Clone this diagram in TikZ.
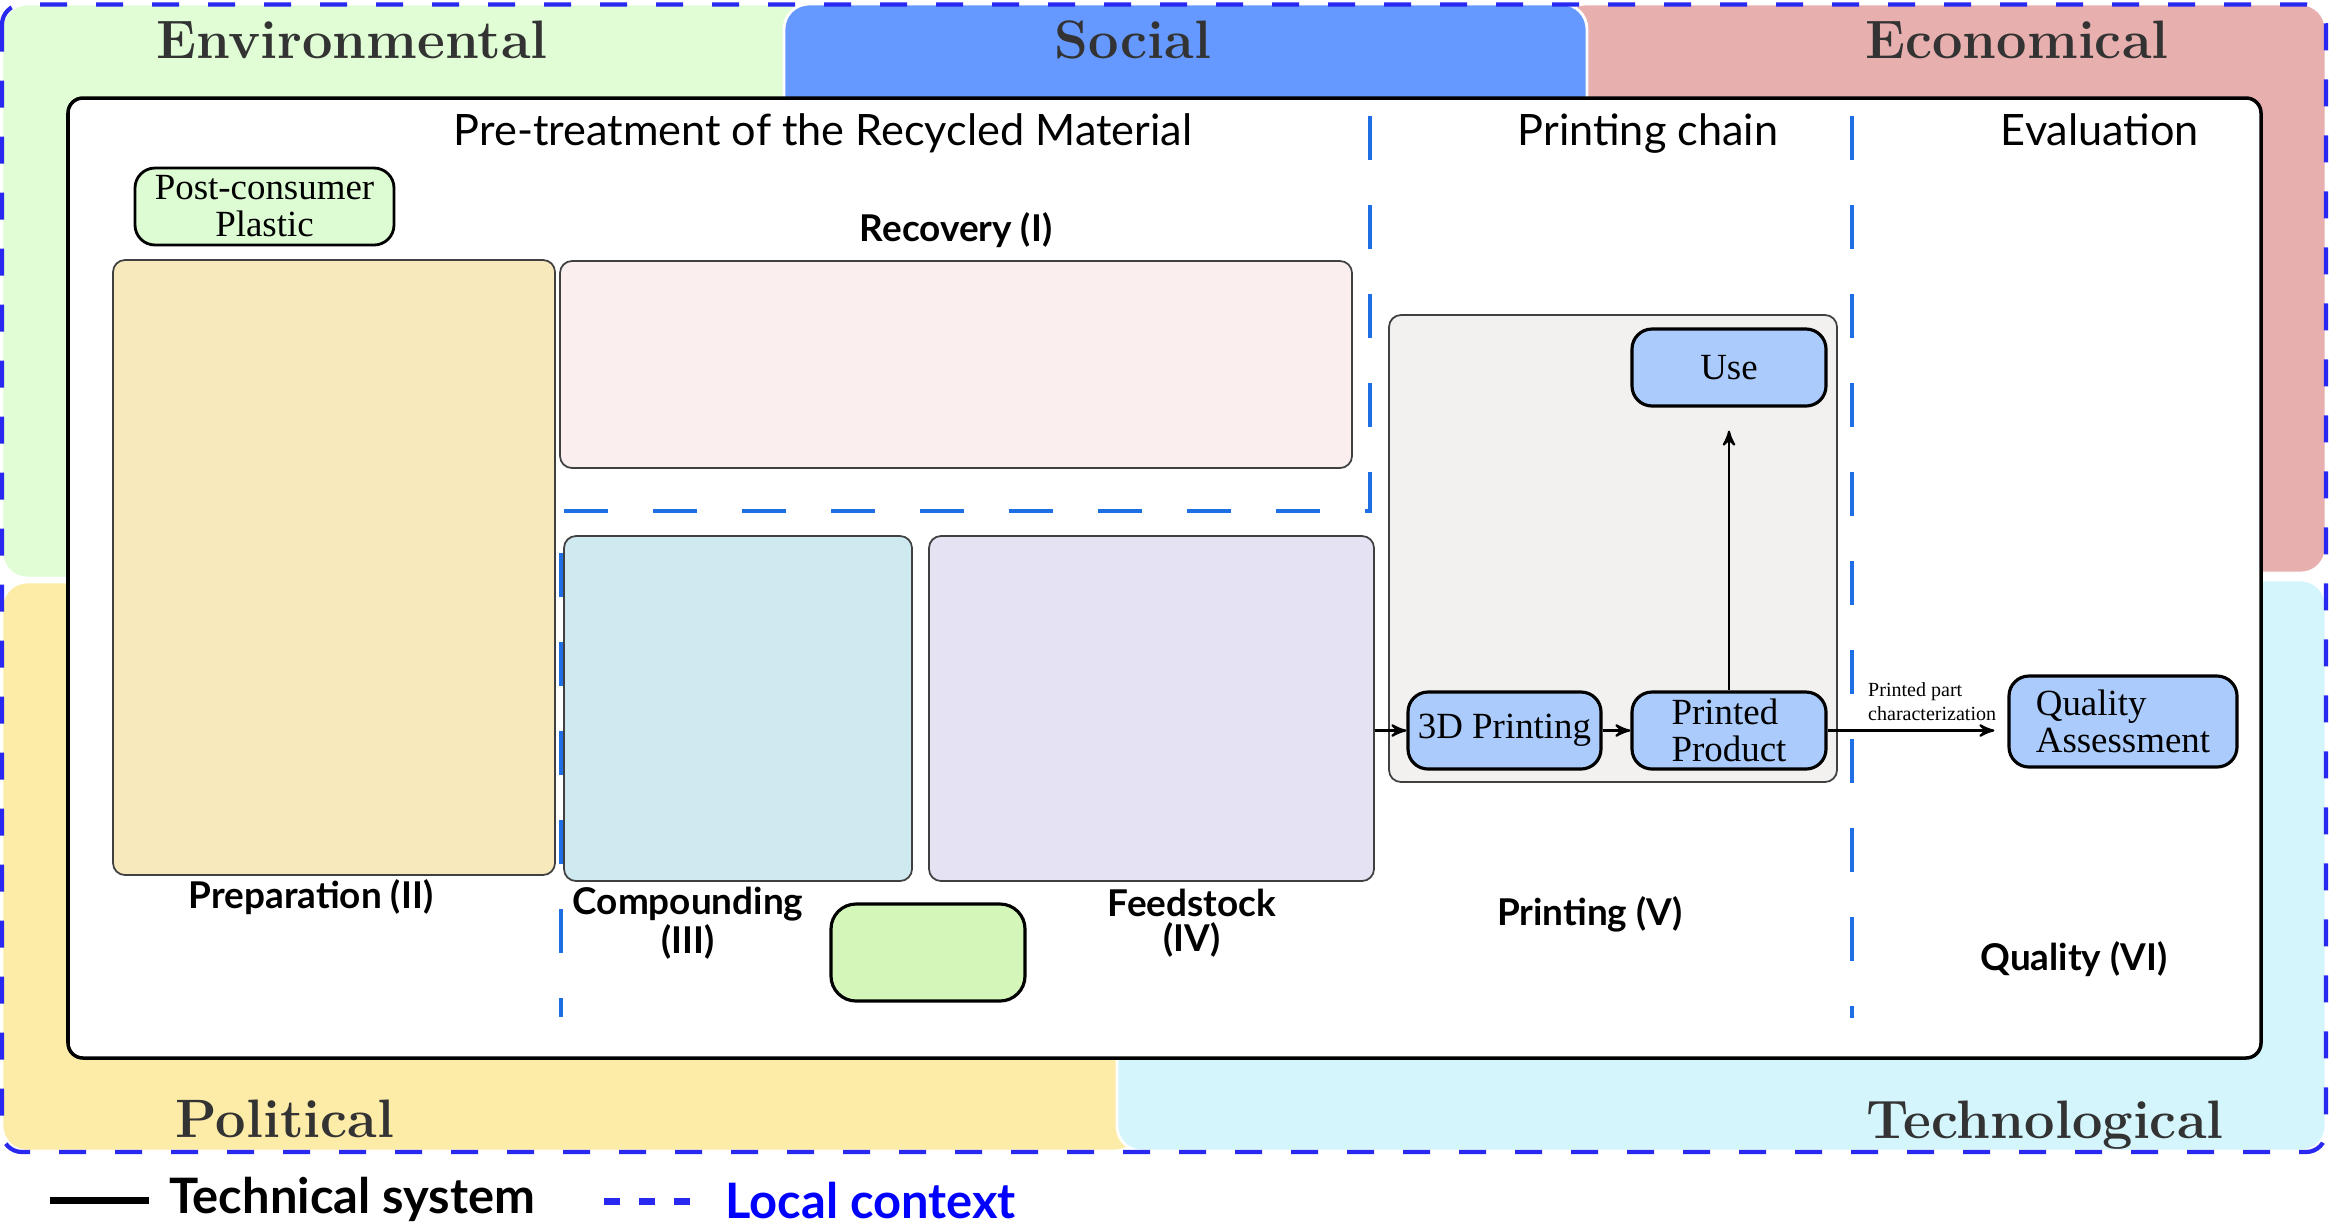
\documentclass[tikz,border=0pt]{standalone}
\usepackage{fontspec}
\setsansfont{Lato}
\newfontfamily\boxfont{Liberation Serif}
\usetikzlibrary{arrows,positioning}

\definecolor{envgreen}{HTML}{E0FDD5}
\definecolor{socblue}{HTML}{6699FF}
\definecolor{ecopink}{HTML}{E8AFAF}
\definecolor{polyellow}{HTML}{FDECA8}
\definecolor{techcyan}{HTML}{D5F5FD}
\definecolor{ctxblue}{HTML}{2828F0}
\definecolor{lineblue}{HTML}{1E6FE6}
\definecolor{labgray}{HTML}{333333}
\definecolor{prepfill}{HTML}{F8E9BD}
\definecolor{recfill}{HTML}{FAEEEE}
\definecolor{compfill}{HTML}{CEEAF0}
\definecolor{feedfill}{HTML}{E5E2F4}
\definecolor{chainfill}{HTML}{F2F1F0}
\definecolor{unitblue}{HTML}{AACBFC}
\definecolor{matgreen}{HTML}{D4F7B9}
\definecolor{postgreen}{HTML}{DDFCD4}

\begin{document}
\begin{tikzpicture}[
		region/.style={fill=#1,draw=white,line width=0.8pt,rounded corners=0.25cm},
		dimension/.style={font=\fontsize{15.4}{18}\selectfont\bfseries,text=labgray,anchor=base},
		heading/.style={font=\sffamily\fontsize{12.3}{14}\selectfont,anchor=base},
		phase/.style={font=\sffamily\bfseries\fontsize{10.5}{10}\selectfont,align=center},
		stagebox/.style={draw=black!75,line width=0.5pt,rounded corners=0.12cm,inner sep=0pt,fill=#1},
		unit/.style={draw,line width=0.9pt,rounded corners=0.2cm,fill=unitblue,inner sep=0pt,minimum width=1.94cm,minimum height=0.77cm,font=\boxfont\fontsize{10.5}{10.5}\selectfont},
		ctx/.style={draw=lineblue,line width=0.9pt,dash pattern=on 0.44cm off 0.45cm},
		flow/.style={->,>=stealth',line width=0.6pt},
		legend/.style={font=\sffamily\bfseries\fontsize{13.9}{16}\selectfont,anchor=base west}]
	\useasboundingbox (0,0) rectangle (23.29,-12.26);

	\path[region=envgreen] (0.02,-0.04) rectangle (8.4,-5.78);
	\path[region=ecopink] (15.6,-0.04) rectangle (23.26,-5.73);
	\path[region=socblue] (7.84,-0.04) rectangle (15.87,-3.0);
	\path[region=polyellow] (0.02,-5.82) rectangle (11.4,-11.51);
	\path[region=techcyan] (11.17,-5.80) rectangle (23.26,-11.51);
	\draw[ctxblue,line width=1.2pt,dash pattern=on 0.27cm off 0.29cm,rounded corners=0.2cm] (0.02,-0.045) rectangle (23.26,-11.52);

	\node[dimension] (env) at (3.52,-0.58) {Environmental};
	\node[dimension] (soc) at (11.33,-0.58) {Social};
	\node[dimension] (eco) at (20.17,-0.58) {Economical};
	\node[dimension] (pol) at (2.85,-11.37) {Political};
	\node[dimension] (tech) at (20.45,-11.38) {Technological};

	\draw[fill=white,line width=1pt,rounded corners=0.15cm] (0.68,-0.98) rectangle (22.61,-10.58);

	\node[heading] (pretreat) at (8.23,-1.45) {Pre-treatment of the Recycled Material};
	\node[heading] (chain) at (16.48,-1.45) {Printing chain};
	\node[heading] (eval) at (21.00,-1.45) {Evaluation};

	\draw[ctx] (13.70,-1.16) -- (13.70,-5.11) -- (5.61,-5.11) -- (5.61,-10.17);
	\draw[ctx] (18.52,-1.16) -- (18.52,-10.18);

	\node[draw,line width=0.8pt,rounded corners=0.2cm,fill=postgreen,minimum width=2.59cm,minimum height=0.77cm,inner sep=0pt,align=center,font=\boxfont\fontsize{10.5}{10.5}\selectfont] (post) at (2.645,-2.065) {Post-consumer\\Plastic};

	\node[stagebox=prepfill,minimum width=4.42cm,minimum height=6.15cm] (prep) at (3.34,-5.675) {};
	\node[stagebox=recfill,minimum width=7.92cm,minimum height=2.07cm] (recov) at (9.56,-3.645) {};
	\node[stagebox=compfill,minimum width=3.48cm,minimum height=3.45cm] (comp) at (7.38,-7.085) {};
	\node[stagebox=feedfill,minimum width=4.45cm,minimum height=3.45cm] (feed) at (11.515,-7.085) {};
	\node[stagebox=chainfill,minimum width=4.48cm,minimum height=4.67cm] (chainbox) at (16.13,-5.485) {};
	\node[draw,line width=0.9pt,rounded corners=0.25cm,fill=matgreen,minimum width=1.94cm,minimum height=0.97cm] (mat) at (9.28,-9.525) {};

	\node[phase,anchor=base] (recl) at (9.56,-2.41) {Recovery (I)};
	\node[phase,anchor=base] (prepl) at (3.11,-9.08) {Preparation (II)};
	\node[phase] (compl) at (6.88,-9.23) {Compounding\\(III)};
	\node[phase] (feedl) at (11.92,-9.23) {Feedstock\\(IV)};
	\node[phase,anchor=base] (printl) at (15.90,-9.25) {Printing (V)};
	\node[phase,anchor=base] (quall) at (20.74,-9.70) {Quality (VI)};

	\node[unit] (use) at (17.29,-3.675) {Use};
	\node[unit,minimum width=1.93cm] (p3d) at (15.045,-7.305) {3D Printing};
	\node[unit,align=left] (prod) at (17.29,-7.305) {Printed\\Product};
	\node[unit,align=left,minimum width=2.28cm,minimum height=0.91cm] (qual) at (21.23,-7.215) {Quality\\Assessment};

	\draw[flow] (feed.east |- p3d.west) -- (p3d.west);
	\draw[flow] (p3d) -- (prod);
	\draw[flow,shorten >=0.23cm] (prod) -- (use);
	\draw[flow,shorten >=0.13cm] (prod) -- node[pos=0.22,anchor=south west,yshift=0.09cm,inner sep=0pt,align=left,font=\boxfont\fontsize{5.7}{6.8}\selectfont] (charlbl) {Printed part\\characterization} (qual.west |- prod.east);

	\draw[line width=2pt] (0.50,-12.00) -- (1.49,-12.00);
	\node[legend] (techsys) at (1.57,-12.13) {Technical system};
	\draw[ctxblue,line width=2pt,dash pattern=on 0.16cm off 0.19cm] (6.04,-12.01) -- (6.90,-12.01);
	\node[legend,text=blue] (localctx) at (7.13,-12.18) {Local context};
\end{tikzpicture}
\end{document}
